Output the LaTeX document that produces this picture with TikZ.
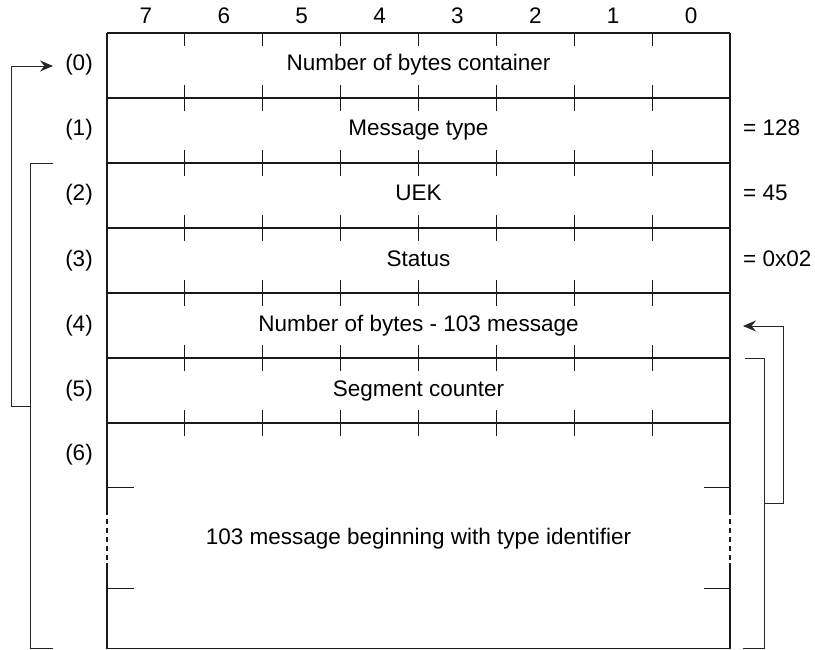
\documentclass[tikz,border=0pt]{standalone}
\usepackage{fontspec}
\setmainfont{Liberation Sans}
\usetikzlibrary{arrows.meta}
\begin{document}
\begin{tikzpicture}[x=1pt,y=-1pt,
  frame/.style={line width=1.1pt, draw=black!90},
  bittick/.style={line width=1pt, draw=black!90},
  bracket/.style={line width=0.9pt, draw=black!85},
  arr/.style={-{Stealth[length=13pt,width=11pt,inset=4.5pt]}},
  lbl/.style={font=\fontsize{22.5}{26}\selectfont, inner sep=0pt, text=black, anchor=base},
  gapdash/.style={dash pattern=on 5pt off 4pt}]
\useasboundingbox (0,0) rectangle (815,650);

% bit numbers above the columns
\foreach \i in {0,...,7}
  \pgfmathtruncatemacro{\b}{7-\i}
  \node[lbl] (bit\b) at ({107+77.875*(\i+0.5)},24) {\b};

% horizontal byte borders
\foreach \r in {0,...,6}
  \draw[frame] (107,{33+65*\r}) -- (730,{33+65*\r});
\draw[frame] (107,648.5) -- (730,648.5);

% left and right borders, interrupted in the last field
\draw[frame] (107,33) -- (107,510);
\draw[frame,gapdash] (107,510) -- (107,563);
\draw[frame] (107,563) -- (107,648.5);
\draw[frame] (730,33) -- (730,510);
\draw[frame,gapdash] (730,510) -- (730,563);
\draw[frame] (730,563) -- (730,648.5);

% bit ticks
\foreach \i in {1,...,7} {
  \draw[bittick] ({107+77.875*\i},33) -- ++(0,13);
  \foreach \r in {1,...,6}
    \draw[bittick] ({107+77.875*\i},{33+65*\r-13}) -- ++(0,26);
}
\draw[bittick] (107,487) -- (134,487);
\draw[bittick] (107,588) -- (134,588);
\draw[bittick] (704,487) -- (730,487);
\draw[bittick] (704,588) -- (730,588);

% field contents
\node[lbl] (f0) at (418.5,71) {Number of bytes container};
\node[lbl] (f1) at (418.5,136) {Message type};
\node[lbl] (f2) at (418.5,201) {UEK};
\node[lbl] (f3) at (418.5,266) {Status};
\node[lbl] (f4) at (418.5,331) {Number of bytes - 103 message};
\node[lbl] (f5) at (418.5,396) {Segment counter};
\node[lbl] (f6) at (418.5,544) {103 message beginning with type identifier};

% byte indices
\foreach \r in {0,...,5}
  \node[lbl] (r\r) at (79,{71+65*\r}) {(\r)};
\node[lbl] (r6) at (79,460) {(6)};

% fixed values
\node[lbl,anchor=base west] (v1) at (743,136) {= 128};
\node[lbl,anchor=base west] (v2) at (743,201) {= 45};
\node[lbl,anchor=base west] (v3) at (743,266) {= 0x02};

% length brackets on the left
\coordinate (lt) at (53,163);
\coordinate (lb) at (53,648);
\coordinate (lj) at (30,406);
\coordinate (la) at (53,66);
\draw[bracket] (lt) -- (30,163) -- (30,648) -- (lb);
\draw[bracket,arr] (lj) -- (11,406) -- (11,66) -- (la);

% length brackets on the right
\coordinate (rt) at (745,358);
\coordinate (rb) at (743,648);
\coordinate (rj) at (764,503);
\coordinate (ra) at (743,326);
\draw[bracket] (rt) -- (764,358) -- (764,648) -- (rb);
\draw[bracket,arr] (rj) -- (783,503) -- (783,326) -- (ra);
\end{tikzpicture}
\end{document}
